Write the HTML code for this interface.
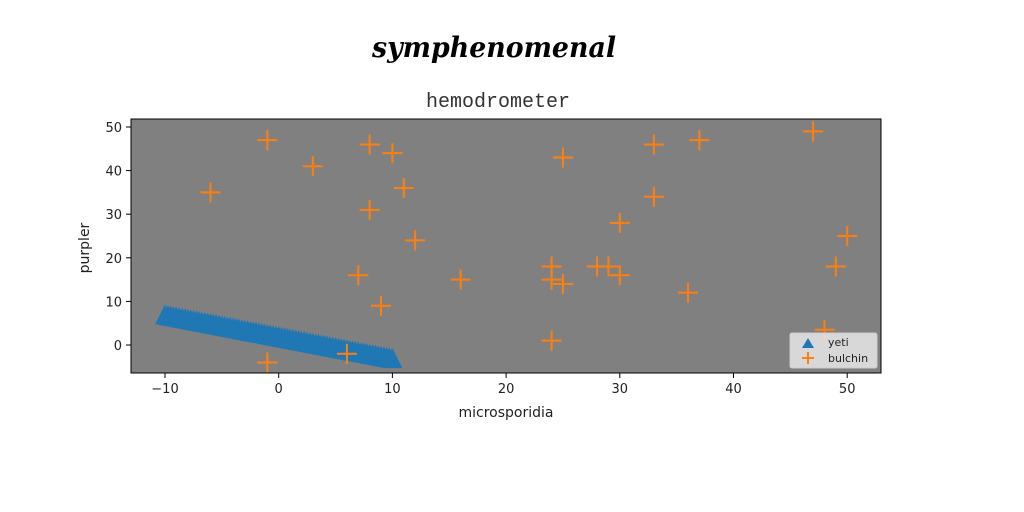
<!DOCTYPE html>
<html><head><meta charset="utf-8"><style>
html,body{margin:0;padding:0;background:#fff;width:1024px;height:512px;overflow:hidden}
svg{display:block}
text{font-family:"DejaVu Sans","Liberation Sans",sans-serif}
</style></head><body>
<svg id="chart" width="1024" height="512" xmlns="http://www.w3.org/2000/svg">
<rect x="0" y="0" width="1024" height="512" fill="#fff"/>
<text x="494" y="57" text-anchor="middle" font-size="28" font-weight="bold" font-style="italic" style="font-family:'URW Chancery L','Z003','DejaVu Serif',serif" textLength="244" lengthAdjust="spacingAndGlyphs">symphenomenal</text>
<text x="498" y="107" text-anchor="middle" font-size="20" style="font-family:'Liberation Mono','DejaVu Sans Mono',monospace" fill="#333">hemodrometer</text>
<rect x="131" y="119" width="750" height="254" fill="#808080"/>
<g id="marks"></g>
<g id="axes"></g>
<rect x="131" y="119" width="750" height="254" fill="none" stroke="#000" stroke-width="1"/>
<text x="506" y="417" text-anchor="middle" font-size="14" fill="#222">microsporidia</text>
<text x="89" y="248" text-anchor="middle" font-size="14" fill="#222" transform="rotate(-90 89 248)">purpler</text>
<g>
<rect x="790" y="333" width="87" height="35" rx="2" fill="#e8e8e8" fill-opacity="0.85" stroke="#ccc"/>
<path d="M802,348 L814,348 L808,338 Z" fill="#1f77b4"/>
<text x="828" y="346" font-size="11" fill="#222">yeti</text>
<path d="M802,358 L814,358 M808,352 L808,364" stroke="#ff7f0e" stroke-width="2"/>
<text x="828" y="362" font-size="11" fill="#222">bulchin</text>
</g>
</svg>
<script>
const yetiX=[-10,-9,-8,-7,-6,-5,-4,-3,-2,-1,0,1,2,3,4,5,6,7,8,9,10];
const yetiY=[7,6.5,6,5.5,5,4.5,4,3.5,3,2.5,2,1.5,1,0.5,0,-0.5,-1,-1.5,-2,-2.5,-3];
const bulchinX=[-6,-1,3,8,10,11,8,12,7,9,-1,6,16,25,24,24,25,24,30,28,29,30,33,33,37,36,47,50,49,48];
const bulchinY=[35,47,41,46,44,36,31,24,16,9,-4,-2,15,43,18,15,14,1,28,18,18,16,46,34,47,12,49,25,18,3.5];
const xTicks=[-10,0,10,20,30,40,50];
const yTicks=[0,10,20,30,40,50];
const NS='http://www.w3.org/2000/svg';
const sx=v=>278.7+v*11.37;
const sy=v=>345-v*4.36;
const marks=document.getElementById('marks');
const axes=document.getElementById('axes');
function mk(tag,attrs,parent){const e=document.createElementNS(NS,tag);for(const k in attrs)e.setAttribute(k,attrs[k]);parent.appendChild(e);return e;}
const clip=mk('clipPath',{id:'pc'},marks);mk('rect',{x:131,y:119,width:750,height:254},clip);
const yg=mk('g',{'clip-path':'url(#pc)'},marks);
for(let i=0;i<yetiX.length;i++){
  const cx=sx(yetiX[i]),cy=sy(yetiY[i]);
  for(let k=0;k<4;k++){
    if(i===yetiX.length-1&&k>0)break;
    const ox=cx+k*(11.37/4),oy=cy+k*(sy(yetiY[Math.min(i+1,yetiY.length-1)])-cy)/4;
    const t=mk('path',{d:`M${ox-10},${oy+10} L${ox+10},${oy+10} L${ox},${oy-10} Z`,fill:'#1f77b4'},yg);
    
    
  }
}
for(let i=0;i<bulchinX.length;i++){
  const cx=sx(bulchinX[i]),cy=sy(bulchinY[i]);
  const p=mk('path',{d:`M${cx-10},${cy} L${cx+10},${cy} M${cx},${cy-10} L${cx},${cy+10}`,stroke:'#ff7f0e','stroke-width':2},yg);
  
  
}
for(const v of xTicks){
  const x=sx(v);
  const l=mk('line',{x1:x,x2:x,y1:373,y2:378,stroke:'#000'},axes);
  
  
  const t=mk('text',{x:x,y:393,'text-anchor':'middle','font-size':13,fill:'#222'},axes);
  t.textContent=v<0?'\u2212'+(-v):v;
  
  
}
for(const v of yTicks){
  const y=sy(v);
  const l=mk('line',{x1:126,x2:131,y1:y,y2:y,stroke:'#000'},axes);
  
  
  const t=mk('text',{x:122,y:y+5,'text-anchor':'end','font-size':13,fill:'#222'},axes);
  t.textContent=v;
  
  
}
</script>
</body></html>
